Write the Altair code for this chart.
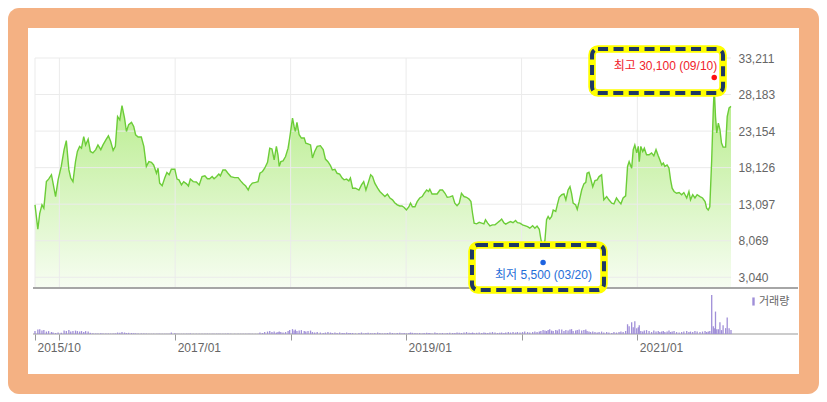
import altair as alt
import pandas as pd

# ---------------- data ----------------
start_date = "2015-10-16"

day_offsets = [
    0, 9, 15, 22, 28, 36, 43, 52, 57, 65, 73, 83, 92, 99, 107, 113, 120, 128, 134, 141,
    147, 154, 160, 168, 175, 183, 192, 199, 208, 215, 224, 232, 239, 247, 254, 261, 268, 275, 283, 289,
    296, 305, 312, 318, 326, 336, 344, 352, 360, 368, 375, 384, 389, 394, 402, 410, 417, 424, 431, 442,
    449, 455, 463, 470, 479, 485, 491, 500, 510, 519, 528, 537, 545, 552, 560, 566, 574, 581, 586, 594,
    602, 610, 619, 631, 642, 650, 658, 666, 674, 679, 687, 697, 705, 711, 719, 726, 735, 742, 749, 756,
    763, 768, 772, 777, 784, 792, 800, 805, 814, 819, 823, 828, 835, 842, 851, 856, 863, 871, 877, 884,
    892, 902, 911, 918, 926, 934, 940, 948, 955, 963, 971, 977, 985, 992, 997, 1004, 1013, 1024, 1032, 1039,
    1046, 1053, 1061, 1067, 1074, 1083, 1090, 1098, 1106, 1114, 1122, 1130, 1137, 1145, 1153, 1160, 1167, 1174, 1182, 1187,
    1193, 1201, 1208, 1216, 1224, 1230, 1238, 1244, 1248, 1255, 1264, 1271, 1280, 1288, 1296, 1303, 1311, 1320, 1327, 1334,
    1341, 1348, 1356, 1364, 1372, 1378, 1383, 1388, 1396, 1404, 1412, 1419, 1424, 1431, 1438, 1446, 1454, 1462, 1469, 1475,
    1482, 1488, 1496, 1503, 1511, 1519, 1525, 1533, 1541, 1548, 1557, 1564, 1573, 1580, 1587, 1594, 1599, 1606, 1612, 1617,
    1622, 1627, 1633, 1638, 1646, 1651, 1657, 1665, 1672, 1678, 1685, 1691, 1696, 1701, 1709, 1714, 1720, 1728, 1735, 1741,
    1745, 1751, 1756, 1763, 1770, 1777, 1783, 1791, 1798, 1807, 1814, 1823, 1830, 1838, 1846, 1852, 1859, 1867, 1873, 1878,
    1886, 1891, 1896, 1902, 1907, 1910, 1915, 1921, 1926, 1933, 1941, 1949, 1956, 1963, 1970, 1975, 1981, 1986, 1991, 1998,
    2004, 2009, 2014, 2020, 2028, 2036, 2044, 2051, 2060, 2067, 2072, 2079, 2086, 2093, 2102, 2110, 2118, 2123, 2128, 2133,
    2139, 2144, 2147, 2151, 2155, 2160, 2165, 2170, 2175, 2183, 2188, 2194, 2200,
]

close_prices = [
    13000, 9650, 11850, 13000, 12550, 16200, 16550, 17150, 16000, 14150, 16450, 18300, 20600, 21850, 17850, 16700, 16200, 18950, 20350, 21050,
    20800, 22400, 21250, 22050, 20350, 20150, 20600, 21250, 20600, 21250, 21950, 22500, 21750, 20500, 21050, 25150, 24700, 26650, 24950, 23100,
    24050, 24350, 23800, 22650, 22350, 22350, 21050, 18300, 18950, 18850, 18500, 17350, 18050, 16000, 15650, 16700, 17450, 17150, 17900, 17900,
    16550, 16450, 15750, 16200, 15900, 15600, 16550, 16200, 16150, 15750, 16900, 17000, 16600, 16600, 16900, 16600, 16900, 17250, 17000, 17800,
    17800, 17350, 16900, 16750, 16750, 16300, 15900, 15600, 15050, 15600, 16000, 16100, 16200, 17350, 17600, 18050, 18850, 20800, 20700, 19200,
    21050, 19900, 18300, 18950, 19050, 19650, 20800, 22200, 24950, 23800, 23100, 24350, 22650, 22200, 22200, 21500, 21400, 21250, 19450, 20350,
    21050, 21150, 20600, 19300, 18950, 18400, 17800, 17900, 17350, 17250, 16700, 16450, 16550, 16300, 16700, 15300, 15300, 15050, 15750, 16200,
    15050, 16000, 17150, 16900, 16000, 15300, 14850, 14500, 14150, 14500, 13950, 13700, 13300, 13000, 12850, 12850, 12650, 12300, 12750, 13250,
    12750, 12750, 13450, 13950, 14150, 14600, 15050, 14850, 15150, 14500, 14500, 14500, 15050, 15050, 14600, 14050, 14100, 14250, 13250, 12900,
    13250, 14600, 14150, 14050, 13800, 13450, 11850, 10500, 10400, 10600, 10500, 10400, 10950, 10500, 10100, 10250, 10250, 10550, 10800, 11050,
    10550, 10350, 10550, 10700, 10550, 10850, 10550, 10500, 10250, 10150, 10000, 9800, 10150, 9800, 10100, 9650, 8300, 6800, 8200, 10950,
    11400, 11050, 11400, 12300, 12100, 13000, 14050, 14400, 14500, 13700, 15050, 15500, 14600, 13250, 13000, 12400, 13450, 15050, 15900, 16100,
    17350, 17500, 16700, 15500, 16350, 16450, 16900, 17150, 13700, 14150, 13700, 13250, 13150, 13950, 13450, 13150, 13950, 14250, 18300, 18950,
    18050, 20600, 21250, 20150, 21050, 18950, 21050, 20350, 20800, 19900, 19900, 20150, 19750, 20600, 19750, 19200, 18500, 18750, 18300, 18500,
    18050, 16450, 15300, 14850, 14600, 14700, 14400, 14700, 13950, 14850, 13700, 14400, 13950, 14400, 14150, 13950, 13450, 12550, 12300, 12750,
    19200, 26100, 29100, 25150, 22900, 24250, 23350, 21500, 20950, 20950, 25150, 26350, 26550,
]

volumes_k = [
    300, 450, 500, 350, 400, 250, 300, 200, 150, 100, 150, 120, 350, 300, 400, 250, 300, 350, 300, 250,
    300, 200, 300, 250, 120, 80, 60, 60, 80, 60, 60, 50, 40, 50, 60, 150, 120, 200, 150, 100,
    120, 100, 80, 60, 60, 50, 60, 40, 30, 20, 30, 20, 20, 30, 20, 20, 30, 20, 150, 80,
    20, 30, 20, 20, 30, 20, 60, 20, 20, 20, 20, 20, 30, 20, 20, 20, 30, 20, 20, 20,
    30, 60, 20, 20, 20, 20, 30, 20, 20, 20, 30, 20, 30, 150, 100, 200, 250, 300, 200, 250,
    150, 200, 250, 200, 150, 200, 300, 400, 500, 350, 450, 300, 350, 400, 300, 250, 300, 350, 200, 150,
    200, 150, 100, 150, 200, 150, 100, 150, 100, 150, 100, 100, 150, 100, 100, 100, 60, 100, 150, 60,
    100, 120, 80, 60, 100, 150, 100, 60, 80, 100, 150, 100, 60, 100, 120, 80, 100, 60, 100, 150,
    120, 100, 80, 100, 60, 100, 120, 80, 100, 60, 150, 100, 80, 100, 60, 100, 120, 100, 100, 150,
    120, 100, 150, 200, 120, 100, 150, 100, 120, 150, 100, 150, 120, 100, 150, 200, 150, 100, 120, 150,
    100, 150, 200, 150, 200, 150, 200, 150, 200, 250, 200, 150, 200, 250, 200, 250, 300, 400, 350, 300,
    400, 500, 350, 300, 400, 350, 500, 450, 300, 400, 350, 450, 500, 300, 350, 400, 450, 350, 400, 450,
    300, 250, 200, 250, 200, 150, 200, 250, 150, 200, 150, 100, 200, 150, 200, 250, 200, 300, 1000, 800,
    1200, 700, 1300, 600, 700, 900, 300, 250, 350, 400, 300, 200, 350, 250, 300, 200, 250, 300, 200, 250,
    350, 200, 250, 300, 200, 150, 200, 250, 300, 200, 250, 200, 300, 250, 200, 250, 300, 200, 250, 300,
    4000, 800, 600, 2300, 500, 500, 1200, 400, 900, 600, 1700, 600, 400,
]

y_ticks = [3040, 8069, 13097, 18126, 23154, 28183, 33211]
y_min = 1568
vol_max = 4000

grid_dates = ["2015-10-16", "2016-01-01", "2017-01-01", "2018-01-01",
              "2019-01-01", "2020-01-01", "2021-01-01"]
labeled_ticks = ["2015/10", "2017/01", "2019/01", "2021/01"]

hi_value, hi_text = 30100, "최고 30,100 (09/10)"
lo_value, lo_text = 5500, "최저 5,500 (03/20)"
volume_name = "거래량"

# ---------------- styling ----------------
ORANGE = "#F4B183"
LINE = "#6ccd38"
GRID = "#ebebeb"
LABEL = "#666666"
PURPLE = "#a08fd8"
YELLOW = "#FFFF00"
NAVY = "#1F3864"
FONT = "Liberation Sans, Noto Sans CJK KR"

W, H = 696, 276          # plot area (price + volume panels)
PRICE_H = 230            # price panel height inside plot area

dates = pd.to_datetime(start_date) + pd.to_timedelta(day_offsets, unit="D")
df = pd.DataFrame({"date": dates, "close": close_prices, "volume": volumes_k})
df["base"] = y_min
df["series"] = volume_name

hi_row = df.loc[df["close"].idxmax()]
lo_row = df.loc[df["close"].idxmin()]
hi_df = pd.DataFrame({"date": [hi_row["date"]], "value": [hi_value], "label": [hi_text]})
lo_df = pd.DataFrame({"date": [lo_row["date"]], "value": [lo_value], "label": [lo_text]})

grid_df = pd.DataFrame({"date": pd.to_datetime(grid_dates)})
ytick_df = pd.DataFrame({"tick": y_ticks})
one = pd.DataFrame({"k": [0]})

xscale = alt.Scale(nice=False, padding=0)
yscale = alt.Scale(domain=[y_min, y_ticks[-1]], range=[PRICE_H, 0], nice=False, zero=False)
vscale = alt.Scale(domain=[0, vol_max], range=[H, H - 39], nice=False, zero=True)

tick_values = [alt.DateTime(year=t.year, month=t.month, date=t.day) for t in pd.to_datetime(grid_dates)]
label_list = ",".join("'" + s + "'" for s in labeled_ticks)
label_expr = (f"indexof([{label_list}], timeFormat(datum.value, '%Y/%m')) >= 0 "
              f"? timeFormat(datum.value, '%Y/%m') : ''")

x_axis = alt.Axis(values=tick_values, labelExpr=label_expr, title=None, grid=False,
                  domain=False, ticks=True, tickSize=6, tickColor="#999999", labelColor=LABEL,
                  labelFontSize=12, labelFont=FONT, labelAlign="left", labelOffset=2,
                  labelPadding=2, labelOverlap=False, labelFlush=False, zindex=1)
X = alt.X("date:T", scale=xscale, axis=x_axis)

# frame and white panel
frame = alt.Chart(one).mark_rect(color=ORANGE, cornerRadius=11).encode(
    x=alt.value(-27), x2=alt.value(W + 88), y=alt.value(-50), y2=alt.value(H + 60))
panel = alt.Chart(one).mark_rect(color="white").encode(
    x=alt.value(-7), x2=alt.value(764), y=alt.value(-30), y2=alt.value(316))

# price area
area = alt.Chart(df).mark_area(
    color=alt.Gradient(gradient="linear",
                       stops=[alt.GradientStop(color="#b5ec88", offset=0),
                              alt.GradientStop(color="#f7fdf2", offset=1)],
                       x1=1, x2=1, y1=0, y2=1)
).encode(
    x=X,
    y=alt.Y("close:Q", scale=yscale,
            axis=alt.Axis(orient="right", values=y_ticks, format=",d", title=None, grid=False,
                          ticks=False, tickSize=0, domain=False, labelPadding=7,
                          labelColor=LABEL, labelFontSize=12, labelFont=FONT, zindex=1)),
    y2=alt.Y2("base:Q"),
)

xgrid = alt.Chart(grid_df).mark_rule(color=GRID, strokeWidth=1).encode(
    x=X, y=alt.value(0), y2=alt.value(PRICE_H))
ygrid = alt.Chart(ytick_df).mark_rule(color=GRID, strokeWidth=1).encode(
    y=alt.Y("tick:Q", scale=yscale, axis=None), x=alt.value(0), x2=alt.value(W))

line = alt.Chart(df).mark_line(color=LINE, strokeWidth=1.4).encode(
    x=X, y=alt.Y("close:Q", scale=yscale, axis=None))

sep = alt.Chart(one).mark_rule(color="#a6a6a6", strokeWidth=2).encode(
    x=alt.value(-2), x2=alt.value(763), y=alt.value(PRICE_H))
xline = alt.Chart(one).mark_rule(color="#999999", strokeWidth=1).encode(
    x=alt.value(-2), x2=alt.value(763), y=alt.value(H))

bars = alt.Chart(df).mark_bar(size=1.3).encode(
    x=X,
    y=alt.Y("volume:Q", scale=vscale, axis=None),
    color=alt.Color("series:N", scale=alt.Scale(range=[PURPLE]),
                    legend=alt.Legend(orient="none", legendX=713, legendY=238, title=None,
                                      padding=0, symbolType="M-0.4,-1.35H0.4V1.35H-0.4Z",
                                      symbolSize=36, symbolStrokeWidth=0, labelOffset=0,
                                      labelFontSize=11, labelColor=LABEL, labelFont=FONT)),
)


def callout(data, w, h, dx, dy):
    enc = dict(x=X, y=alt.Y("value:Q", scale=yscale, axis=None))
    outer = alt.Chart(data).mark_rect(width=w, height=h, xOffset=dx, yOffset=dy, fill="white",
                                      stroke=YELLOW, strokeWidth=7.5, cornerRadius=6).encode(**enc)
    inner = alt.Chart(data).mark_rect(width=w, height=h, xOffset=dx, yOffset=dy, fill=None,
                                      stroke=NAVY, strokeWidth=4, strokeDash=[10, 5.5],
                                      cornerRadius=6).encode(**enc)
    return outer, inner


hi_outer, hi_inner = callout(hi_df, 131, 44, -56.7, -9.6)
lo_outer, lo_inner = callout(lo_df, 132, 45, -5.1, 8.1)

hi_dot = alt.Chart(hi_df).mark_circle(size=30, color="#ff1010", opacity=1, yOffset=-3).encode(
    x=X, y=alt.Y("value:Q", scale=yscale, axis=None))
lo_dot = alt.Chart(lo_df).mark_circle(size=30, color="#1d63e0", opacity=1, yOffset=3).encode(
    x=X, y=alt.Y("value:Q", scale=yscale, axis=None))
hi_lbl = alt.Chart(hi_df).mark_text(align="right", baseline="middle", dx=3, dy=-14.6,
                                    fontSize=12, font=FONT, color="#f0222a").encode(
    x=X, y=alt.Y("value:Q", scale=yscale, axis=None), text="label:N")
lo_lbl = alt.Chart(lo_df).mark_text(align="center", baseline="middle", dx=0.4, dy=15.6,
                                    fontSize=12, font=FONT, color="#1f6ed8").encode(
    x=X, y=alt.Y("value:Q", scale=yscale, axis=None), text="label:N")

chart = alt.layer(
    frame, panel, area, xgrid, ygrid, line, sep, xline, bars,
    hi_outer, hi_inner, lo_outer, lo_inner, hi_dot, lo_dot, hi_lbl, lo_lbl,
).resolve_scale(y="independent").properties(
    width=W, height=H,
    padding={"left": 27, "top": 50, "right": 88, "bottom": 60},
    autosize=alt.AutoSizeParams(type="none"),
    background="white",
).configure_view(stroke=None)

chart.save("out.html", embed_options={"renderer": "svg", "actions": False})
